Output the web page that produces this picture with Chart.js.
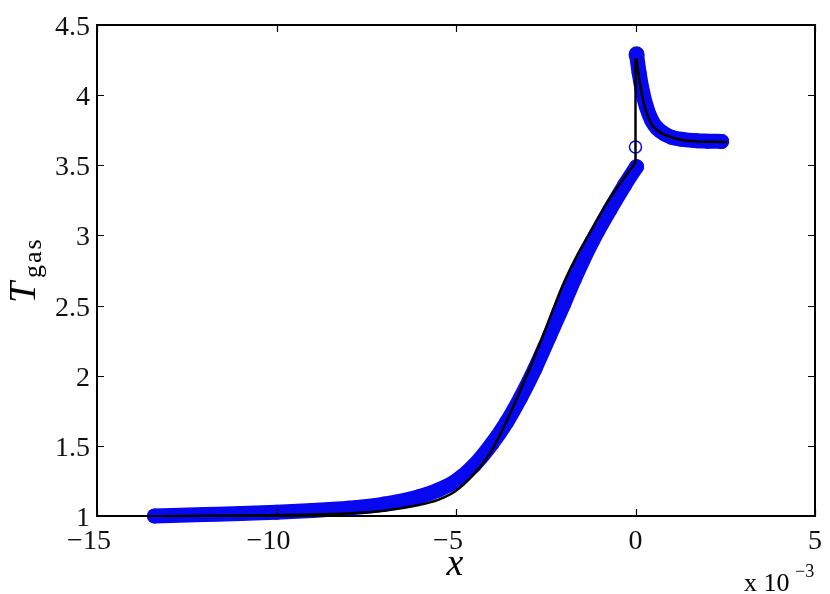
<!DOCTYPE html>
<html>
<head>
<meta charset="utf-8">
<script src="https://cdn.jsdelivr.net/npm/chart.js@4/dist/chart.umd.min.js"></script>
<style>
  html, body { margin: 0; padding: 0; background: #fff; }
  #tgas { display: block; }
</style>
</head>
<body>
<canvas id="tgas" width="830" height="594"></canvas>
<script>
// x values are in units of 1e-3
const blackLeftX = [-13.1, -12, -11, -10, -9, -8, -7, -6, -5.5, -5, -4.5, -4, -3.6, -3.2, -2.9, -2.6, -2.3, -2.0, -1.6, -1.2, -0.8, -0.4, 0];
const blackLeftY = [1.0, 1.001, 1.003, 1.006, 1.01, 1.02, 1.038, 1.08, 1.115, 1.18, 1.30, 1.47, 1.67, 1.90, 2.08, 2.27, 2.47, 2.66, 2.87, 3.05, 3.23, 3.38, 3.52];
const blackJumpX = [0, 0];
const blackJumpY = [3.52, 4.26];
const blackRightX = [0.03, 0.1, 0.2, 0.3, 0.45, 0.6, 0.8, 1.0, 1.3, 1.7, 2.1, 2.55];
const blackRightY = [4.26, 4.12, 3.98, 3.88, 3.79, 3.75, 3.72, 3.70, 3.68, 3.67, 3.667, 3.665];

const blueLeftX = [-13.4, -12, -11, -10, -9, -8, -7, -6, -5.5, -5, -4.5, -4, -3.6, -3.2, -2.8, -2.4, -2.0, -1.7, -1.2, -0.72, -0.3, 0.03];
const blueLeftY = [1.0, 1.01, 1.017, 1.027, 1.04, 1.056, 1.085, 1.14, 1.185, 1.25, 1.36, 1.515, 1.665, 1.845, 2.05, 2.28, 2.51, 2.69, 2.96, 3.18, 3.36, 3.49];
const blueRightX = [0.03, 0.1, 0.2, 0.3, 0.45, 0.6, 0.8, 1.0, 1.3, 1.7, 2.0, 2.4];
const blueRightY = [4.29, 4.16, 4.02, 3.92, 3.82, 3.765, 3.725, 3.70, 3.685, 3.675, 3.672, 3.67];
const openX = [0];
const openY = [3.63];

const xTicks = [-15, -10, -5, 0, 5];
const yTicks = [1, 1.5, 2, 2.5, 3, 3.5, 4, 4.5];

const pts = (xs, ys) => xs.map((x, i) => ({ x: x, y: ys[i] }));
const BLUE = "rgb(8,8,240)";
const serif = "'Liberation Serif', 'Times New Roman', Times, serif";
const fmt = v => (v < 0 ? "\u2212" + Math.abs(v) : String(v));

function blueSet(xs, ys, rim) {
  return {
    data: pts(xs, ys),
    showLine: true,
    borderColor: BLUE,
    backgroundColor: BLUE,
    borderWidth: 15,
    borderCapStyle: "round",
    borderJoinStyle: "round",
    cubicInterpolationMode: "monotone",
    pointRadius: 7.5,
    pointBorderColor: "rgb(20,20,170)",
    pointBorderWidth: c => (rim && c.dataIndex === 0 ? 1.2 : 0),
    clip: false,
    order: 2,
  };
}
function blackSet(xs, ys, smooth) {
  return {
    data: pts(xs, ys),
    showLine: true,
    borderColor: "#000",
    borderWidth: 2.5,
    cubicInterpolationMode: smooth ? "monotone" : "default",
    pointRadius: 0,
    clip: false,
    order: 0,
  };
}

// box, inward ticks, tick labels and the special texts (subscript / exponent)
const matlabBox = {
  id: "matlabBox",
  afterDraw(chart) {
    const { ctx, chartArea: a, scales } = chart;
    ctx.save();
    ctx.strokeStyle = "#000";
    ctx.lineWidth = 1.2;
    ctx.beginPath();
    xTicks.forEach(v => {
      const px = Math.round(scales.x.getPixelForValue(v)) + 0.5;
      ctx.moveTo(px, a.bottom); ctx.lineTo(px, a.bottom - 7);
      ctx.moveTo(px, a.top); ctx.lineTo(px, a.top + 7);
    });
    yTicks.forEach(v => {
      const py = Math.round(scales.y.getPixelForValue(v)) + 0.5;
      ctx.moveTo(a.left, py); ctx.lineTo(a.left + 7, py);
      ctx.moveTo(a.right, py); ctx.lineTo(a.right - 7, py);
    });
    ctx.stroke();
    ctx.lineWidth = 2;
    ctx.strokeRect(a.left, a.top, a.right - a.left, a.bottom - a.top);

    ctx.fillStyle = "#111";
    ctx.font = "28px " + serif;
    ctx.textBaseline = "alphabetic";
    ctx.textAlign = "center";
    xTicks.forEach(v => ctx.fillText(fmt(v), scales.x.getPixelForValue(v) - (v < 0 ? 8 : 0), a.bottom + 33));
    ctx.textAlign = "right";
    yTicks.forEach(v => ctx.fillText(fmt(v), a.left - 7, scales.y.getPixelForValue(v) + 10));

    ctx.fillStyle = "#000";
    // x label
    ctx.font = "italic 38px " + serif;
    ctx.textAlign = "center";
    ctx.fillText("x", 455, 575);

    // y label T_gas
    ctx.save();
    ctx.translate(35, 303);
    ctx.rotate(-Math.PI / 2);
    ctx.textAlign = "left";
    ctx.font = "italic 38px " + serif;
    ctx.fillText("T", 0, 0);
    ctx.font = "26px " + serif;
    ctx.letterSpacing = "2px";
    ctx.fillText("gas", 25, 6);
    ctx.restore();

    // exponent
    ctx.textAlign = "left";
    ctx.font = "26px " + serif;
    ctx.fillText("x 10", 744, 591);
    ctx.font = "18px " + serif;
    ctx.fillText("\u22123", 795, 577);
    ctx.restore();
  }
};

function draw() {
  new Chart(document.getElementById("tgas"), {
    type: "scatter",
    data: {
      datasets: [
        blackSet(blackLeftX, blackLeftY, true),
        blackSet(blackJumpX, blackJumpY, false),
        blackSet(blackRightX, blackRightY, true),
        blueSet(blueLeftX, blueLeftY, false),
        blueSet(blueRightX, blueRightY, true),
        {
          data: pts(openX, openY),
          pointRadius: 6,
          pointBorderWidth: 1.5,
          pointBorderColor: BLUE,
          pointBackgroundColor: "rgba(0,0,0,0)",
          clip: false,
          order: 1,
        },
      ],
    },
    options: {
      responsive: false,
      animation: false,
      layout: { padding: { left: 0, right: 15, top: 25, bottom: 0 } },
      plugins: { legend: { display: false }, tooltip: { enabled: false } },
      scales: {
        x: {
          type: "linear",
          min: -15, max: 5,
          afterFit: s => { s.height = 78; },
          grid: { display: false, drawTicks: false },
          border: { display: false },
          ticks: { display: false },
        },
        y: {
          type: "linear",
          min: 1, max: 4.5,
          afterFit: s => { s.width = 97; },
          grid: { display: false, drawTicks: false },
          border: { display: false },
          ticks: { display: false },
        },
      },
    },
    plugins: [matlabBox],
  });
}

Promise.all([
  document.fonts.load("28px 'Liberation Serif'"),
  document.fonts.load("italic 38px 'Liberation Serif'"),
]).then(draw, draw);
</script>
</body>
</html>
